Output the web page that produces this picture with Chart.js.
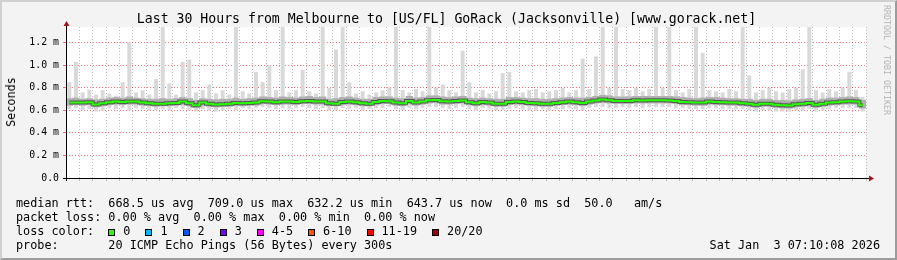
<!DOCTYPE html>
<html>
<head>
<meta charset="utf-8">
<script src="https://cdn.jsdelivr.net/npm/chart.js@4.4.1/dist/chart.umd.min.js"></script>
<style>
  body { margin: 0; }
  #wrap { position: relative; width: 897px; height: 260px; background: #f3f3f3; overflow: hidden;
          font-family: 'DejaVu Sans Mono', monospace; color: #000; }
  #frame { position: absolute; left: 0; top: 0; width: 897px; height: 260px; box-sizing: border-box;
           border-top: 2px solid #d0d0d0; border-left: 2px solid #d0d0d0;
           border-right: 2px solid #9c9c9c; border-bottom: 2px solid #9c9c9c; }
  #chart { position: absolute; left: 0; top: 0; }
  .txt { position: absolute; white-space: pre; }
  #title { left: 0; top: 11px; width: 893px; text-align: center; font-size: 13.2px; line-height: 16px; }
  #ylab { left: 11px; top: 102px; font-size: 11.8px; transform: translate(-50%, -50%) rotate(-90deg); }
  #credit { left: 887px; top: 60px; font-size: 8.3px; color: #b4b4b4; transform: translate(-50%, -50%) rotate(90deg); }
  #foot { left: 16px; top: 196px; font-size: 11.8px; line-height: 14px; }
  #date { right: 17px; top: 238px; font-size: 11.8px; line-height: 14px; }
  .box { display: inline-block; width: 5px; height: 5px; border: 1px solid #000; vertical-align: -1px; margin-right: 8px; }
  .lbl { margin-right: 15px; }
</style>
</head>
<body>
<div id="wrap">
  <div id="frame"></div>
  <canvas id="chart" width="897" height="260"></canvas>
  <div class="txt" id="title">Last 30 Hours from Melbourne to [US/FL] GoRack (Jacksonville) [www.gorack.net]</div>
  <div class="txt" id="ylab">Seconds</div>
  <div class="txt" id="credit">RRDTOOL / TOBI OETIKER</div>
  <div class="txt" id="foot"><div>median rtt:  668.5 us avg  709.0 us max  632.2 us min  643.7 us now  0.0 ms sd  50.0   am/s</div><div>packet loss: 0.00 % avg  0.00 % max  0.00 % min  0.00 % now</div><div id="loss">loss color:  </div><div>probe:       20 ICMP Echo Pings (56 Bytes) every 300s</div></div>
  <div class="txt" id="date">Sat Jan  3 07:10:08 2026</div>
</div>
<script>
// 120 bins of 15 minutes, Fri 01:10 -> Sat 07:10 (values in ms)
const medianMs = [
  0.669, 0.669, 0.669, 0.672, 0.652, 0.663, 0.672, 0.678, 0.675, 0.678,
  0.678, 0.669, 0.663, 0.658, 0.660, 0.663, 0.666, 0.678, 0.663, 0.646,
  0.669, 0.658, 0.652, 0.655, 0.658, 0.666, 0.663, 0.666, 0.669, 0.681,
  0.678, 0.672, 0.678, 0.678, 0.675, 0.681, 0.684, 0.678, 0.678, 0.663,
  0.660, 0.675, 0.678, 0.672, 0.663, 0.660, 0.675, 0.684, 0.681, 0.669,
  0.663, 0.684, 0.669, 0.678, 0.690, 0.693, 0.681, 0.678, 0.684, 0.687,
  0.672, 0.663, 0.675, 0.669, 0.660, 0.660, 0.675, 0.678, 0.675, 0.666,
  0.663, 0.660, 0.658, 0.666, 0.672, 0.678, 0.672, 0.666, 0.678, 0.687,
  0.696, 0.690, 0.684, 0.684, 0.684, 0.690, 0.687, 0.690, 0.690, 0.690,
  0.687, 0.684, 0.675, 0.672, 0.669, 0.669, 0.678, 0.675, 0.672, 0.669,
  0.669, 0.663, 0.658, 0.649, 0.660, 0.658, 0.649, 0.646, 0.643, 0.655,
  0.660, 0.666, 0.649, 0.660, 0.669, 0.672, 0.678, 0.681, 0.678, 0.645
];
const minMs = [
  0.61, 0.62, 0.60, 0.61, 0.59, 0.60, 0.62, 0.61, 0.62, 0.60,
  0.62, 0.61, 0.60, 0.60, 0.61, 0.60, 0.62, 0.61, 0.60, 0.59,
  0.61, 0.60, 0.59, 0.60, 0.61, 0.60, 0.62, 0.61, 0.62, 0.63,
  0.62, 0.61, 0.62, 0.61, 0.62, 0.63, 0.62, 0.61, 0.62, 0.60,
  0.60, 0.62, 0.61, 0.62, 0.60, 0.61, 0.62, 0.62, 0.63, 0.61,
  0.60, 0.62, 0.61, 0.62, 0.63, 0.63, 0.62, 0.61, 0.62, 0.63,
  0.61, 0.60, 0.62, 0.61, 0.60, 0.60, 0.61, 0.62, 0.61, 0.60,
  0.60, 0.61, 0.60, 0.61, 0.61, 0.62, 0.61, 0.60, 0.62, 0.63,
  0.63, 0.62, 0.62, 0.63, 0.62, 0.63, 0.62, 0.63, 0.63, 0.63,
  0.63, 0.62, 0.62, 0.61, 0.61, 0.61, 0.62, 0.62, 0.61, 0.61,
  0.61, 0.61, 0.60, 0.59, 0.60, 0.60, 0.59, 0.59, 0.59, 0.60,
  0.60, 0.61, 0.59, 0.60, 0.61, 0.62, 0.62, 0.62, 0.62, 0.59
];
const loMs = [
  0.645, 0.650, 0.645, 0.650, 0.630, 0.640, 0.650, 0.655, 0.650, 0.655,
  0.655, 0.645, 0.640, 0.635, 0.640, 0.640, 0.645, 0.655, 0.640, 0.625,
  0.645, 0.635, 0.630, 0.635, 0.635, 0.645, 0.640, 0.645, 0.645, 0.660,
  0.655, 0.650, 0.655, 0.655, 0.650, 0.660, 0.660, 0.655, 0.655, 0.640,
  0.640, 0.650, 0.655, 0.650, 0.640, 0.640, 0.650, 0.660, 0.660, 0.645,
  0.640, 0.660, 0.645, 0.655, 0.665, 0.670, 0.655, 0.655, 0.660, 0.665,
  0.650, 0.640, 0.650, 0.645, 0.635, 0.635, 0.650, 0.655, 0.650, 0.645,
  0.640, 0.635, 0.635, 0.645, 0.650, 0.655, 0.650, 0.640, 0.655, 0.665,
  0.670, 0.665, 0.660, 0.660, 0.660, 0.665, 0.665, 0.665, 0.665, 0.665,
  0.665, 0.660, 0.650, 0.650, 0.645, 0.645, 0.655, 0.650, 0.650, 0.645,
  0.645, 0.640, 0.635, 0.625, 0.635, 0.635, 0.625, 0.620, 0.620, 0.630,
  0.635, 0.640, 0.625, 0.635, 0.645, 0.650, 0.655, 0.655, 0.655, 0.620
];
const hiMs = [
  0.705, 0.710, 0.700, 0.705, 0.695, 0.700, 0.710, 0.715, 0.710, 0.720,
  0.710, 0.705, 0.700, 0.700, 0.705, 0.700, 0.705, 0.715, 0.705, 0.690,
  0.705, 0.700, 0.695, 0.700, 0.700, 0.710, 0.700, 0.705, 0.710, 0.720,
  0.715, 0.710, 0.720, 0.715, 0.710, 0.720, 0.725, 0.715, 0.720, 0.700,
  0.705, 0.715, 0.720, 0.710, 0.700, 0.700, 0.715, 0.720, 0.720, 0.710,
  0.705, 0.725, 0.710, 0.715, 0.730, 0.730, 0.720, 0.715, 0.720, 0.725,
  0.710, 0.705, 0.710, 0.705, 0.700, 0.700, 0.715, 0.715, 0.710, 0.705,
  0.705, 0.700, 0.700, 0.705, 0.710, 0.715, 0.710, 0.710, 0.715, 0.725,
  0.735, 0.730, 0.720, 0.720, 0.720, 0.725, 0.725, 0.725, 0.725, 0.725,
  0.725, 0.720, 0.715, 0.710, 0.705, 0.710, 0.715, 0.715, 0.710, 0.705,
  0.705, 0.700, 0.700, 0.690, 0.700, 0.700, 0.690, 0.690, 0.685, 0.695,
  0.700, 0.705, 0.690, 0.700, 0.710, 0.710, 0.715, 0.720, 0.715, 0.690
];
const maxMs = [
  0.85, 1.03, 0.76, 0.785, 0.74, 0.78, 0.75, 0.73, 0.85, 1.205,
  0.76, 0.78, 0.74, 0.88, 1.40, 0.84, 0.74, 1.03, 1.05, 0.76,
  0.78, 0.83, 0.75, 0.78, 0.74, 1.40, 0.77, 0.75, 0.94, 0.85,
  1.00, 0.78, 1.40, 0.76, 0.78, 0.96, 0.77, 0.75, 1.40, 0.80,
  1.14, 1.40, 0.85, 0.75, 0.77, 0.74, 0.76, 0.78, 0.80, 1.40,
  0.78, 0.76, 0.79, 0.77, 1.40, 0.80, 0.83, 0.78, 0.76, 1.13,
  0.85, 0.76, 0.78, 0.75, 0.77, 0.93, 0.94, 0.77, 0.76, 0.78,
  0.79, 0.76, 0.77, 0.78, 0.80, 0.76, 0.78, 1.06, 0.79, 1.08,
  1.40, 0.80, 1.40, 0.79, 0.78, 0.80, 0.77, 0.79, 1.40, 0.80,
  1.40, 0.78, 0.76, 0.79, 1.40, 1.11, 0.78, 0.77, 0.76, 0.79,
  0.77, 1.40, 0.91, 0.76, 0.78, 0.80, 0.77, 0.76, 0.79, 0.80,
  0.965, 1.40, 0.78, 0.76, 0.79, 0.77, 0.80, 0.94, 0.78, 0.72
];

const xTickHours = [3, 6, 9, 12, 15, 18, 21, 24, 27, 30];
const xTickLabels = ['Fri 03:00', 'Fri 06:00', 'Fri 09:00', 'Fri 12:00', 'Fri 15:00',
                     'Fri 18:00', 'Fri 21:00', 'Sat 00:00', 'Sat 03:00', 'Sat 06:00'];
const yTickLabels = ['0.0', '0.2 m', '0.4 m', '0.6 m', '0.8 m', '1.0 m', '1.2 m'];

const lossLabels = ['0', '1', '2', '3', '4-5', '6-10', '11-19', '20/20'];
const lossColors = ['#26ff00', '#00b8ff', '#0059ff', '#7e00ff', '#ff00ff', '#ff5500', '#ff0000', '#a00000'];

const startHour = 1 + 10 / 60 + 8 / 3600; // Fri 01:10:08
const binHours = 0.25;
const binTimes = medianMs.map((_, i) => startHour + (i + 0.5) * binHours);

const loss = document.getElementById('loss');
lossLabels.forEach((l, i) => {
  const b = document.createElement('span');
  b.className = 'box';
  b.style.background = lossColors[i];
  const t = document.createElement('span');
  t.className = 'lbl';
  t.textContent = l;
  loss.appendChild(b);
  loss.appendChild(t);
});

const MAJOR = 'rgba(255,0,0,0.55)';
const MINOR = '#bcbcbc';
const tickFont = { family: 'DejaVu Sans Mono', size: 9.85 };

const rrdFrame = {
  id: 'rrdFrame',
  beforeDraw(chart) {
    const { ctx, chartArea: a } = chart;
    ctx.save();
    ctx.fillStyle = '#ffffff';
    ctx.fillRect(a.left, a.top, a.right - a.left, a.bottom - a.top);
    ctx.restore();
  },
  afterDraw(chart) {
    const { ctx, chartArea: a } = chart;
    ctx.save();
    ctx.strokeStyle = '#000';
    ctx.lineWidth = 1;
    ctx.beginPath();
    ctx.moveTo(a.left - 3, a.bottom + 0.5);
    ctx.lineTo(a.right + 3, a.bottom + 0.5);
    ctx.moveTo(a.left + 0.5, a.bottom + 3);
    ctx.lineTo(a.left + 0.5, a.top - 1);
    ctx.stroke();
    ctx.fillStyle = '#a31515';
    ctx.beginPath();
    ctx.moveTo(a.left - 2.5, a.top - 1);
    ctx.lineTo(a.left + 3.5, a.top - 1);
    ctx.lineTo(a.left + 0.5, a.top - 6);
    ctx.fill();
    ctx.beginPath();
    ctx.moveTo(a.right + 3, a.bottom - 2.5);
    ctx.lineTo(a.right + 3, a.bottom + 3.5);
    ctx.lineTo(a.right + 8, a.bottom + 0.5);
    ctx.fill();
    ctx.restore();
  }
};

new Chart(document.getElementById('chart'), {
  type: 'bar',
  data: {
    datasets: [
      {
        label: 'smoke',
        data: binTimes.map((t, i) => ({ x: t, y: [minMs[i], maxMs[i]] })),
        backgroundColor: '#d9d9d9',
        grouped: false, barPercentage: 0.6, categoryPercentage: 1, borderWidth: 0,
        order: 5
      },
      {
        label: 'smoke core',
        data: binTimes.map((t, i) => ({ x: t, y: [loMs[i], hiMs[i]] })),
        backgroundColor: '#b0b0b0',
        grouped: false, barPercentage: 1, categoryPercentage: 1, borderWidth: 0,
        order: 4
      },
      {
        type: 'line',
        label: 'median shade',
        data: binTimes.map((t, i) => ({ x: t, y: medianMs[i] })),
        borderColor: 'rgba(30,30,30,0.6)',
        borderWidth: 4,
        stepped: 'middle',
        pointRadius: 0,
        order: 2
      },
      {
        type: 'line',
        label: 'median rtt',
        data: binTimes.map((t, i) => ({ x: t, y: medianMs[i] })),
        borderColor: '#26ff00',
        borderWidth: 2,
        stepped: 'middle',
        pointRadius: 0,
        order: 1
      }
    ]
  },
  options: {
    responsive: false,
    animation: false,
    devicePixelRatio: 1,
    layout: { padding: { left: 0, right: 31, top: 27, bottom: 62 } },
    plugins: { legend: { display: false }, tooltip: { enabled: false } },
    scales: {
      x: {
        type: 'linear',
        min: startHour,
        max: startHour + 30,
        offset: false,
        z: 1,
        afterFit: s => { s.height = 20; },
        grid: {
          offset: false,
          color: c => (c.tick.value % 1 === 0 ? MAJOR : MINOR),
          tickColor: c => (c.tick.value % 1 === 0 ? MAJOR : MINOR),
          tickLength: 3
        },
        border: { display: false, dash: [1, 2] },
        ticks: {
          stepSize: 0.5,
          includeBounds: false,
          autoSkip: false,
          maxRotation: 0,
          padding: 1,
          color: '#000',
          font: tickFont,
          callback: v => {
            const i = xTickHours.indexOf(v);
            return i >= 0 ? xTickLabels[i] : '';
          }
        }
      },
      y: {
        min: 0,
        max: 1.34,
        z: 1,
        afterFit: s => { s.width = 66; },
        grid: {
          color: c => (Math.round(c.tick.value * 10) % 2 === 0 ? MAJOR : MINOR),
          tickColor: c => (Math.round(c.tick.value * 10) % 2 === 0 ? MAJOR : MINOR),
          tickLength: 3
        },
        border: { display: false, dash: [1, 2] },
        ticks: {
          stepSize: 0.1,
          includeBounds: false,
          padding: 4,
          color: '#000',
          font: tickFont,
          callback: v => {
            const k = Math.round(v * 10);
            return k % 2 === 0 ? yTickLabels[k / 2] : '';
          }
        }
      }
    }
  },
  plugins: [rrdFrame]
});
</script>
</body>
</html>
